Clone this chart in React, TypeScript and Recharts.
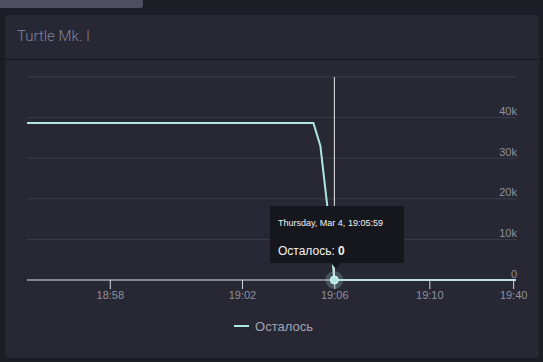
import React from "react";
import { LineChart, Line, XAxis, YAxis, CartesianGrid, Tooltip, Legend } from "recharts";

// Sample timestamps (ordinal axis: every sample gets equal spacing)
const times: string[] = [
  "18:55:31", "18:55:43", "18:55:56", "18:56:08", "18:56:21", "18:56:33", "18:56:46", "18:56:58",
  "18:57:11", "18:57:23", "18:57:36", "18:57:48", "18:58:01", "18:58:14", "18:58:26", "18:58:39",
  "18:58:52", "18:59:04", "18:59:17", "18:59:30", "18:59:42", "18:59:55", "19:00:08", "19:00:20",
  "19:00:33", "19:00:46", "19:00:58", "19:01:11", "19:01:24", "19:01:36", "19:01:49", "19:02:02",
  "19:02:20", "19:02:38", "19:02:57", "19:03:15", "19:03:33", "19:03:51", "19:04:10", "19:04:28",
  "19:04:46", "19:05:04", "19:05:23", "19:05:41", "19:05:59", "19:06:17", "19:06:35", "19:06:52",
  "19:07:10", "19:07:28", "19:07:45", "19:08:03", "19:08:20", "19:08:38", "19:08:56", "19:09:13",
  "19:09:31", "19:09:48", "19:10:06", "19:12:40", "19:15:14", "19:17:48", "19:20:21", "19:22:55",
  "19:25:29", "19:28:03", "19:30:37", "19:33:10", "19:35:44", "19:38:18", "19:40:52",
];

// "Осталось" values
const remaining: number[] = [
  38700, 38700, 38700, 38700, 38700, 38700, 38700, 38700,
  38700, 38700, 38700, 38700, 38700, 38700, 38700, 38700,
  38700, 38700, 38700, 38700, 38700, 38700, 38700, 38700,
  38700, 38700, 38700, 38700, 38700, 38700, 38700, 38700,
  38700, 38700, 38700, 38700, 38700, 38700, 38700, 38700,
  38700, 38700, 33000, 18000, 0, 0, 0, 0,
  0, 0, 0, 0, 0, 0, 0, 0,
  0, 0, 0, 0, 0, 0, 0, 0,
  0, 0, 0, 0, 0, 0, 0,
];

const xTickLabels: string[] = ["18:58", "19:02", "19:06", "19:10", "19:40"];
const yTicks: number[] = [0, 10000, 20000, 30000, 40000, 50000];
const seriesName = "Осталось";
const dateLabel = "Thursday, Mar 4";
const chartTitle = "Turtle Mk. I";
const activeIndex = 44;

const toSec = (t: string) => {
  const p = t.split(":").map(Number);
  return p[0] * 3600 + p[1] * 60 + (p[2] || 0);
};

const data = times.map((t, i) => ({ pos: i, time: t, value: remaining[i] }));

// ordinal position of each tick time (interpolated between neighbouring samples)
const ordinalPos = (label: string) => {
  const s = toSec(label);
  const secs = times.map(toSec);
  for (let i = 0; i < secs.length - 1; i++) {
    if (s >= secs[i] && s <= secs[i + 1]) return i + (s - secs[i]) / (secs[i + 1] - secs[i]);
  }
  return s < secs[0] ? 0 : secs.length - 1;
};
const xTicks = xTickLabels.map(ordinalPos);

const LINE = "#aee6e2";
const FONT = "'Liberation Sans', Arial, sans-serif";
const LABEL = "#8f919c";

const YTick = (props: any) => {
  const { x, y, payload } = props;
  if (payload.value >= 50000) return null;
  const v = payload.value;
  const txt = v === 0 ? "0" : `${v / 1000}k`;
  return (
    <text x={x + 1} y={y - 2.5} textAnchor="end" fill={LABEL} fontSize={11} fontFamily={FONT}>
      {txt}
    </text>
  );
};

const TipContent = (props: any) => {
  const { active, payload } = props;
  if (!active || !payload || !payload.length) return null;
  const p = payload[0].payload;
  return (
    <div style={{ position: "relative", width: 134, height: 57, background: "#16171d", fontFamily: FONT, color: "#f2f2f2" }}>
      <div style={{ position: "absolute", left: 8, top: 12, fontSize: 9, lineHeight: "10px", whiteSpace: "nowrap" }}>
        {dateLabel}, {p.time}
      </div>
      <div style={{ position: "absolute", left: 8, top: 38, fontSize: 12, lineHeight: "14px", whiteSpace: "nowrap" }}>
        {seriesName}: <b>{p.value}</b>
      </div>
      <div
        style={{
          position: "absolute",
          left: 61,
          top: 57,
          width: 0,
          height: 0,
          borderLeft: "5px solid transparent",
          borderRight: "5px solid transparent",
          borderTop: "6px solid #16171d",
        }}
      />
    </div>
  );
};

const ActiveDot = (props: any) => {
  const { cx, cy } = props;
  return (
    <g>
      <circle cx={cx} cy={cy} r={9} fill={LINE} fillOpacity={0.22} />
      <circle cx={cx} cy={cy} r={4} fill={LINE} stroke="#e8fbfa" strokeWidth={1} />
    </g>
  );
};

const LegendContent = () => (
  <div style={{ height: 20, display: "flex", alignItems: "center", justifyContent: "center", fontFamily: FONT }}>
    <div style={{ display: "flex", alignItems: "center", marginLeft: 3 }}>
      <span style={{ display: "inline-block", width: 15, height: 2, background: LINE, marginRight: 6 }} />
      <span style={{ color: "#a2a4af", fontSize: 13 }}>{seriesName}</span>
    </div>
  </div>
);

export default function App() {
  return (
    <div style={{ position: "fixed", left: 0, top: 0, width: 543, height: 362, background: "#1c1d25", overflow: "hidden" }}>
      <div style={{ position: "absolute", left: 0, top: 0, width: 143, height: 8, background: "#4d4e61", borderBottomRightRadius: 3 }} />
      <div style={{ position: "absolute", left: 5, top: 15, width: 534, height: 343, background: "#272834", borderRadius: 4 }} />
      <div style={{ position: "absolute", left: 0, top: 59, width: 543, height: 1, background: "#17181e" }} />
      <div
        style={{
          position: "absolute",
          left: 17,
          top: 27,
          fontFamily: "Roboto, sans-serif",
          fontWeight: 300,
          fontSize: 15,
          lineHeight: "18px",
          color: "#80829a",
        }}
      >
        {chartTitle}
      </div>
      <div style={{ position: "absolute", left: 0, top: 60 }}>
        <LineChart width={543} height={298} data={data} margin={{ top: 17, left: 27, right: 26, bottom: 22 }}>
          <CartesianGrid horizontal vertical={false} stroke="#3b3d49" />
          <XAxis
            type="number"
            dataKey="pos"
            domain={[0, times.length - 1]}
            ticks={xTicks}
            tickFormatter={(v: number) => xTickLabels[xTicks.findIndex((t) => Math.abs(t - v) < 1e-6)] ?? ""}
            interval={0}
            height={36}
            tickSize={9}
            tickMargin={2}
            axisLine={{ stroke: "#d6d8e0" }}
            tickLine={{ stroke: "#d6d8e0" }}
            tick={{ fill: LABEL, fontSize: 11, fontFamily: FONT }}
          />
          <YAxis
            orientation="right"
            width={1}
            domain={[0, 50000]}
            ticks={yTicks}
            interval={0}
            axisLine={false}
            tickLine={false}
            tickSize={0}
            tickMargin={0}
            tick={YTick}
          />
          <Tooltip
            defaultIndex={activeIndex}
            content={<TipContent />}
            position={{ x: 270, y: 146 }}
            cursor={{ stroke: "#e6e6e6", strokeWidth: 1 }}
            isAnimationActive={false}
            wrapperStyle={{ outline: "none" }}
          />
          <Legend verticalAlign="bottom" content={<LegendContent />} />
          <Line
            type="linear"
            dataKey="value"
            name={seriesName}
            stroke={LINE}
            strokeWidth={2}
            dot={false}
            activeDot={<ActiveDot />}
            isAnimationActive={false}
          />
        </LineChart>
      </div>
    </div>
  );
}
